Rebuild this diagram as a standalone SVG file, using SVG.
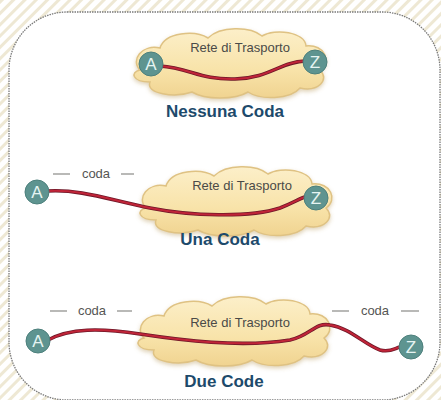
<svg xmlns="http://www.w3.org/2000/svg" width="441" height="400" viewBox="0 0 441 400">
<defs>
<pattern id="stripes" width="8" height="8" patternUnits="userSpaceOnUse" patternTransform="rotate(45)">
<rect width="8" height="8" fill="#ffffff"/>
<rect width="3" height="8" fill="#eee8d4"/>
</pattern>
<linearGradient id="cloudFill" x1="0" y1="0" x2="0" y2="1">
<stop offset="0" stop-color="#fcefc9"/>
<stop offset="0.6" stop-color="#f8e3a9"/>
<stop offset="1" stop-color="#f0d390"/>
</linearGradient>
<filter id="shadow" x="-20%" y="-30%" width="140%" height="160%">
<feDropShadow dx="0" dy="2" stdDeviation="2" flood-color="#b89a5a" flood-opacity="0.45"/>
</filter>
<path id="cloud" d="M -90,8 C -100,-2 -88,-18 -70,-14 C -65,-30 -35,-32 -22,-24 C -10,-36 20,-36 32,-26 C 45,-34 75,-30 76,-16 C 95,-18 102,0 90,8 C 100,18 88,30 70,26 C 60,38 30,38 18,30 C 5,38 -25,38 -38,30 C -55,36 -85,32 -80,20 C -98,20 -100,10 -90,8 Z"/>
</defs>
<style>
.cloud { fill: url(#cloudFill); stroke: #dfc283; stroke-width: 1.5; filter: url(#shadow); }
.net { font-family: "Liberation Sans", Arial, sans-serif; font-size: 13px; fill: #4a4a48; text-anchor: middle; }
.coda { font-family: "Liberation Sans", Arial, sans-serif; font-size: 13px; fill: #555553; text-anchor: middle; }
.title { font-family: "Liberation Sans", Arial, sans-serif; font-size: 17px; font-weight: bold; fill: #1d4a6b; text-anchor: middle; }
.node circle { fill: #5e9490; stroke: #4d807c; stroke-width: 1; }
.node text { font-family: "Liberation Sans", Arial, sans-serif; font-size: 17px; fill: #e6f4f2; text-anchor: middle; }
.wire-under { fill: none; stroke: #6e1828; stroke-width: 3.6; stroke-linecap: round; }
.wire { fill: none; stroke: #c02438; stroke-width: 2; stroke-linecap: round; }
.dash { stroke: #8a8a88; stroke-width: 1.2; }
</style>
<rect width="441" height="400" fill="url(#stripes)"/>
<rect x="9" y="12" width="431" height="388" rx="58" ry="58" fill="#ffffff" stroke="#7a7a7a" stroke-width="1.3" stroke-dasharray="1.5 1"/>

<g id="cloud1"><use href="#cloud" class="cloud" transform="translate(230,62)"/><text class="net" x="240" y="52">Rete di Trasporto</text></g>
<g id="cloud2"><use href="#cloud" class="cloud" transform="translate(236,200)"/><text class="net" x="242" y="190">Rete di Trasporto</text></g>
<g id="cloud3"><use href="#cloud" class="cloud" transform="translate(234,330)"/><text class="net" x="240" y="327">Rete di Trasporto</text></g>

<g id="connectors">
<path class="wire-under" d="M160,66 C190,68 200,80 235,79 C270,78 280,62 305,61"/>
<path class="wire" d="M160,66 C190,68 200,80 235,79 C270,78 280,62 305,61"/>
<path class="wire-under" d="M48,191 C80,189 110,200 150,208 C190,216 250,218 280,208 C295,202 300,198 308,196"/>
<path class="wire" d="M48,191 C80,189 110,200 150,208 C190,216 250,218 280,208 C295,202 300,198 308,196"/>
<path class="wire-under" d="M48,340 C70,328 100,328 140,334 C180,340 240,348 290,340 C310,336 315,322 330,325 C350,328 365,345 380,350 C390,353 395,348 400,347"/>
<path class="wire" d="M48,340 C70,328 100,328 140,334 C180,340 240,348 290,340 C310,336 315,322 330,325 C350,328 365,345 380,350 C390,353 395,348 400,347"/>
</g>

<g id="node-a1" class="node"><circle cx="151" cy="64" r="12"/><text x="151" y="70">A</text></g>
<g id="node-z1" class="node"><circle cx="315" cy="62" r="12"/><text x="315" y="68">Z</text></g>
<g id="node-a2" class="node"><circle cx="37" cy="192" r="12"/><text x="37" y="198">A</text></g>
<g id="node-z2" class="node"><circle cx="316" cy="198" r="12"/><text x="316" y="204">Z</text></g>
<g id="node-a3" class="node"><circle cx="38" cy="341" r="12"/><text x="38" y="347">A</text></g>
<g id="node-z3" class="node"><circle cx="411" cy="347" r="12"/><text x="411" y="353">Z</text></g>

<g id="queue2"><line class="dash" x1="53" y1="174" x2="70" y2="174"/><text class="coda" x="96" y="178">coda</text><line class="dash" x1="121" y1="174" x2="134" y2="174"/></g>
<g id="queue3a"><line class="dash" x1="50" y1="311" x2="67" y2="311"/><text class="coda" x="92" y="315">coda</text><line class="dash" x1="117" y1="311" x2="132" y2="311"/></g>
<g id="queue3b"><line class="dash" x1="332" y1="311" x2="349" y2="311"/><text class="coda" x="375" y="315">coda</text><line class="dash" x1="401" y1="311" x2="419" y2="311"/></g>

<text class="title" x="225" y="117">Nessuna Coda</text>
<text class="title" x="220" y="245">Una Coda</text>
<text class="title" x="224" y="387">Due Code</text>
</svg>
